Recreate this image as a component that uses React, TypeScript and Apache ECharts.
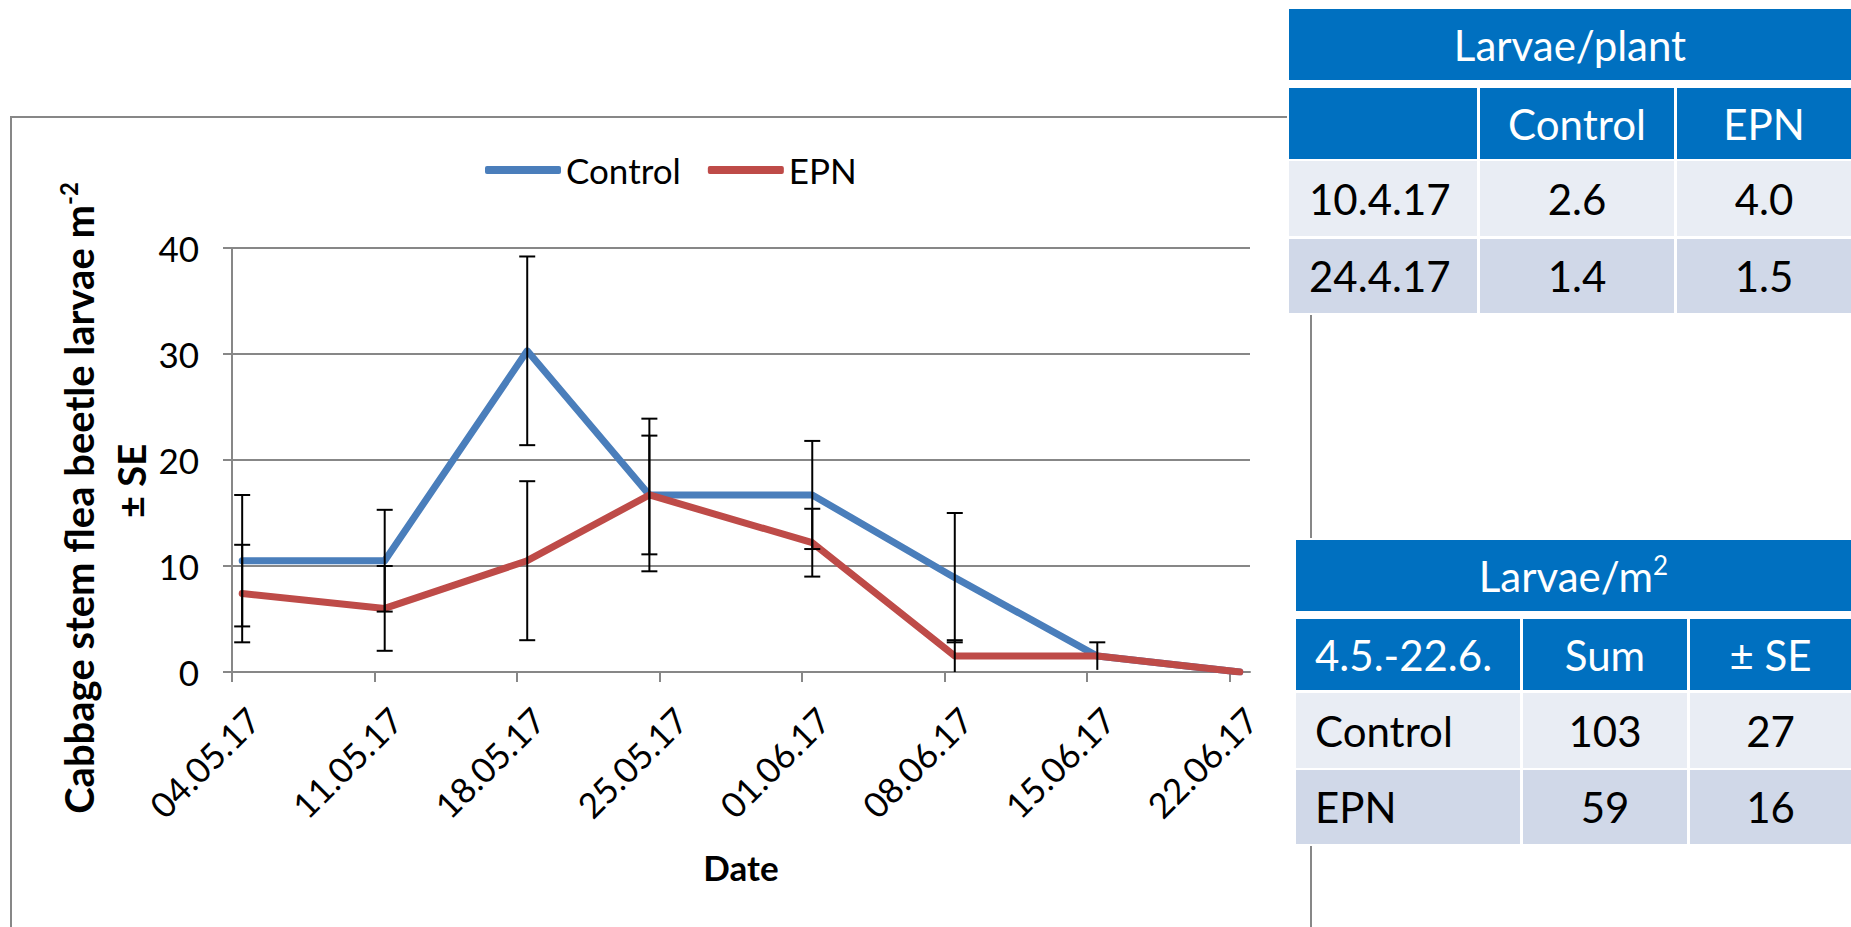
import React, { useEffect, useRef } from "react";
import * as echarts from "echarts";

// ---------- data ----------
const sampleDates = ["2017-05-04", "2017-05-11", "2017-05-18", "2017-05-24", "2017-06-01", "2017-06-08", "2017-06-15", "2017-06-22"];
const controlMean = [10.5, 10.5, 30.3, 16.7, 16.7, 8.9, 1.5, 0];
const controlSE = [6.2, 4.8, 8.9, 7.2, 5.1, 6.1, 1.3, 0];
const epnMean = [7.4, 6.0, 10.5, 16.7, 12.2, 1.5, 1.5, 0];
const epnSE = [4.6, 4.0, 7.5, 5.6, 3.2, 1.5, 0, 0];
const tickLabels = ["04.05.17", "11.05.17", "18.05.17", "25.05.17", "01.06.17", "08.06.17", "15.06.17", "22.06.17"];
const seriesNames = ["Control", "EPN"];
const yTitle = "Cabbage stem flea beetle larvae m";
const yTitleSup = "-2";
const yTitle2 = "± SE";
const xTitle = "Date";

const plantTitle = "Larvae/plant";
const plantCols = ["", "Control", "EPN"];
const plantRows = [
  ["10.4.17", "2.6", "4.0"],
  ["24.4.17", "1.4", "1.5"],
];
const m2Title = "Larvae/m";
const m2TitleSup = "2";
const m2Cols = ["4.5.-22.6.", "Sum", "± SE"];
const m2Rows = [
  ["Control", "103", "27"],
  ["EPN", "59", "16"],
];

// ---------- helpers ----------
const FONT = 'Lato, "Open Sans", sans-serif';
const DAY = 86400000;
const startMs = Date.parse(sampleDates[0]);
const sampleDays = sampleDates.map((d) => (Date.parse(d) - startMs) / DAY + 0.5);
const tickDays = tickLabels.map((_, i) => i * 7);

const BLUE = "#4a7ebb";
const RED = "#be4b48";
const GRAY = "#878787";
const HEAD = "#0070c0";
const ROW1 = "#e9edf4";
const ROW2 = "#d0d8e8";

function txt(x: number, y: number, text: string, opts: any = {}) {
  const align = opts.align || "center";
  return {
    type: "text",
    x,
    y,
    z: 20,
    rotation: opts.rotation || 0,
    style: {
      text,
      fill: opts.fill || "#000",
      fontSize: opts.fontSize || 42,
      fontFamily: FONT,
      fontWeight: opts.fontWeight || "normal",
      align,
      textAlign: align,
      verticalAlign: "middle",
      textVerticalAlign: "middle",
      rich: opts.rich,
    },
  };
}

function rect(x: number, y: number, w: number, h: number, fill: string, z = 10) {
  return { type: "rect", z, shape: { x, y, width: w, height: h }, style: { fill } };
}

function buildTable(
  cols: number[][],
  rows: number[][],
  title: string,
  titleSup: string | null,
  header: string[],
  body: string[][],
  padLeft: number
) {
  const els: any[] = [];
  const x0 = cols[0][0];
  const x1 = cols[cols.length - 1][1];
  els.push(rect(x0 - 2, rows[0][0] - 2, x1 - x0 + 4, rows[rows.length - 1][1] - rows[0][0] + 4, "#fff", 9));
  els.push(rect(x0, rows[0][0], x1 - x0, rows[0][1] - rows[0][0], HEAD));
  const ty = (rows[0][0] + rows[0][1]) / 2;
  if (titleSup) {
    els.push(
      txt((x0 + x1) / 2, ty, `{m|${title}}{s|${titleSup}}`, {
        fill: "#fff",
        rich: {
          m: { fontSize: 42, fontFamily: FONT, fill: "#fff", lineHeight: 48 },
          s: { fontSize: 26, fontFamily: FONT, fill: "#fff", verticalAlign: "top", lineHeight: 26 },
        },
      })
    );
  } else {
    els.push(txt((x0 + x1) / 2, ty, title, { fill: "#fff" }));
  }
  const hr = rows[1];
  cols.forEach((c, ci) => {
    els.push(rect(c[0], hr[0], c[1] - c[0], hr[1] - hr[0], HEAD));
    const cy = (hr[0] + hr[1]) / 2;
    if (ci === 0) els.push(txt(c[0] + padLeft, cy, header[ci], { fill: "#fff", align: "left" }));
    else els.push(txt((c[0] + c[1]) / 2, cy, header[ci], { fill: "#fff" }));
  });
  body.forEach((r, ri) => {
    const rr = rows[2 + ri];
    const fill = ri % 2 === 0 ? ROW1 : ROW2;
    cols.forEach((c, ci) => {
      els.push(rect(c[0], rr[0], c[1] - c[0], rr[1] - rr[0], fill));
      const cy = (rr[0] + rr[1]) / 2;
      if (ci === 0) els.push(txt(c[0] + padLeft, cy, r[ci], { align: "left" }));
      else els.push(txt((c[0] + c[1]) / 2, cy, r[ci]));
    });
  });
  return els;
}

function errorBarSeries(name: string, mean: number[], se: number[]) {
  return {
    type: "custom",
    name,
    z: 5,
    silent: true,
    data: sampleDays.map((d, i) => [d, mean[i], se[i]]),
    encode: { x: 0, y: 1 },
    renderItem: (params: any, api: any) => {
      const x = api.value(0);
      const y = api.value(1);
      const s = api.value(2);
      if (!s) return { type: "group", children: [] };
      const hi = api.coord([x, y + s]);
      const loVal = Math.max(0, y - s);
      const lo = api.coord([x, loVal]);
      const hw = 8;
      const st = { stroke: "#000", lineWidth: 2 };
      const children: any[] = [
        { type: "line", shape: { x1: hi[0], y1: hi[1], x2: lo[0], y2: lo[1] }, style: st },
        { type: "line", shape: { x1: hi[0] - hw, y1: hi[1], x2: hi[0] + hw, y2: hi[1] }, style: st },
      ];
      if (y - s > 0.25) {
        children.push({ type: "line", shape: { x1: lo[0] - hw, y1: lo[1], x2: lo[0] + hw, y2: lo[1] }, style: st });
      }
      return { type: "group", children };
    },
  };
}

export default function App() {
  const ref = useRef<HTMLDivElement>(null);
  useEffect(() => {
    if (!ref.current) return;
    const chart = echarts.init(ref.current, null, { renderer: "svg" });

    const graphics: any[] = [
      {
        type: "rect",
        z: 1,
        shape: { x: 11, y: 117, width: 1300, height: 900 },
        style: { fill: "none", stroke: GRAY, lineWidth: 2 },
      },
      txt(79, 498, `{m|${yTitle}}{s|${yTitleSup}}`, {
        rotation: Math.PI / 2,
        rich: {
          m: { fontSize: 40, fontFamily: FONT, fontWeight: "bold", fill: "#000", lineHeight: 46 },
          s: { fontSize: 24, fontFamily: FONT, fontWeight: "bold", fill: "#000", verticalAlign: "top", lineHeight: 24 },
        },
      }),
      txt(131, 481, yTitle2, { rotation: Math.PI / 2, fontSize: 38, fontWeight: "bold" }),
      txt(741, 867, xTitle, { fontSize: 35, fontWeight: "bold" }),
      ...buildTable(
        [[1289, 1477], [1480, 1674], [1677, 1851]],
        [[9, 80], [88, 159], [161, 236], [239, 313]],
        plantTitle,
        null,
        plantCols,
        plantRows,
        20
      ),
      ...buildTable(
        [[1296, 1520], [1523, 1687], [1690, 1851]],
        [[540, 611], [619, 690], [693, 768], [770, 844]],
        m2Title,
        m2TitleSup,
        m2Cols,
        m2Rows,
        19
      ),
    ];

    const option: any = {
      animation: false,
      backgroundColor: "#fff",
      textStyle: { fontFamily: FONT },
      legend: {
        data: seriesNames,
        left: 480,
        top: 144,
        icon: "roundRect",
        itemWidth: 76,
        itemHeight: 8,
        itemGap: 27,
        textStyle: { fontSize: 35, fontFamily: FONT, color: "#000", lineHeight: 42 },
      },
      grid: { left: 232, top: 248, right: 601, bottom: 255, containLabel: false, outerBoundsMode: "none" },
      xAxis: {
        type: "value",
        min: 0,
        max: 50,
        interval: 7,
        axisLine: { show: true, lineStyle: { color: GRAY, width: 2 } },
        axisTick: { show: true, length: 10, lineStyle: { color: GRAY, width: 2 }, customValues: tickDays },
        splitLine: { show: false },
        axisLabel: {
          customValues: tickDays,
          rotate: 45,
          margin: 20,
          fontSize: 35,
          fontFamily: FONT,
          color: "#000",
          verticalAlign: "top",
          lineHeight: 60,
          formatter: (v: number) => tickLabels[Math.round(v / 7)] || "",
        },
      },
      yAxis: {
        type: "value",
        min: 0,
        max: 40,
        interval: 10,
        axisLine: { show: true, lineStyle: { color: GRAY, width: 2 } },
        axisTick: { show: true, length: 9, lineStyle: { color: GRAY, width: 2 } },
        splitLine: { show: true, lineStyle: { color: GRAY, width: 2 } },
        axisLabel: { margin: 33, fontSize: 35, fontFamily: FONT, color: "#000" },
      },
      series: [
        {
          type: "line",
          name: seriesNames[0],
          color: BLUE,
          z: 3,
          symbol: "none",
          lineStyle: { width: 7, color: BLUE, cap: "round", join: "round" },
          data: sampleDays.map((d, i) => [d, controlMean[i]]),
        },
        {
          type: "line",
          name: seriesNames[1],
          color: RED,
          z: 4,
          symbol: "none",
          lineStyle: { width: 7, color: RED, cap: "round", join: "round" },
          data: sampleDays.map((d, i) => [d, epnMean[i]]),
        },
        errorBarSeries("Control SE", controlMean, controlSE),
        errorBarSeries("EPN SE", epnMean, epnSE),
      ],
      graphic: { elements: graphics },
    };
    chart.setOption(option);
    return () => chart.dispose();
  }, []);
  return (
    <div
      ref={ref}
      style={{ position: "fixed", left: 0, top: 0, width: 1851, height: 927 }}
    />
  );
}
